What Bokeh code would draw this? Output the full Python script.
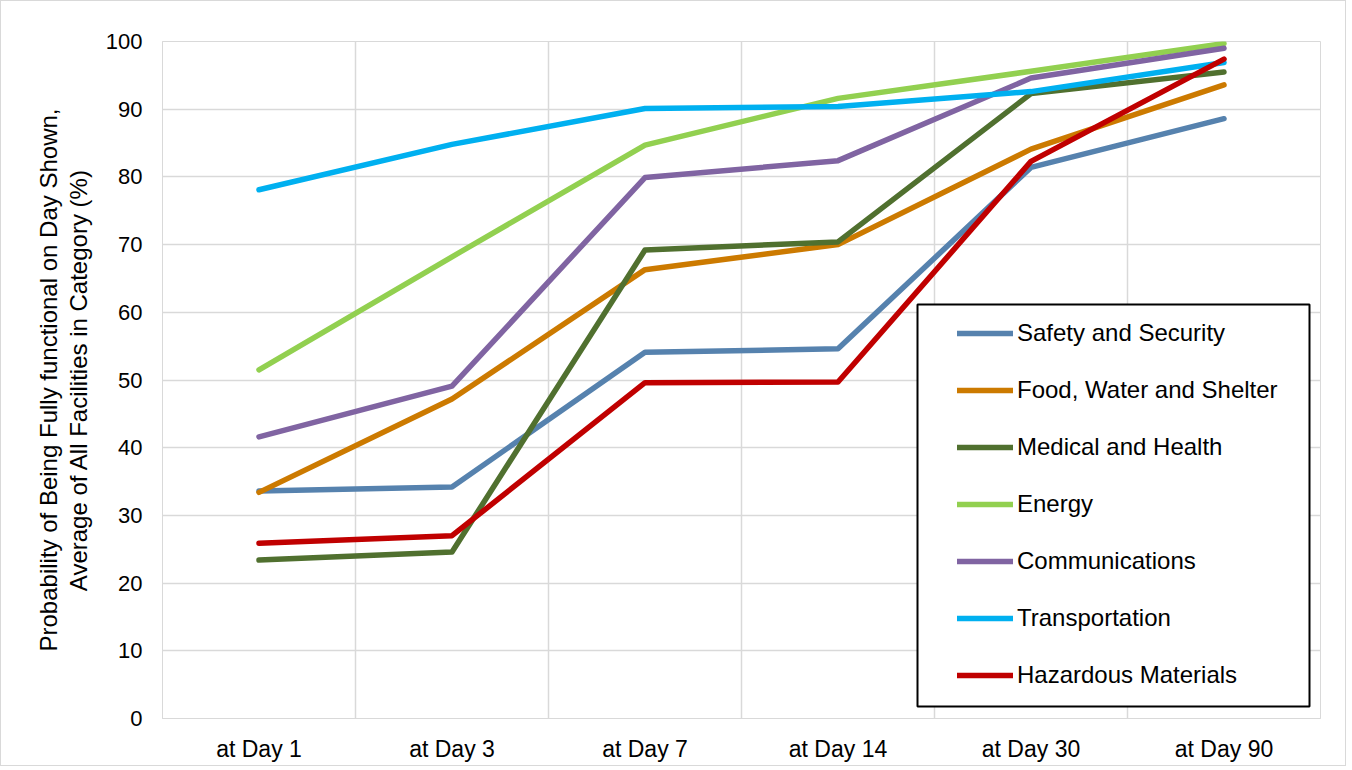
from bokeh.plotting import figure
from bokeh.models import FixedTicker, Legend, LegendItem, BoxAnnotation, Range1d
from bokeh.embed import file_html
from bokeh.resources import INLINE

days = ["at Day 1", "at Day 3", "at Day 7", "at Day 14", "at Day 30", "at Day 90"]

safety = [33.6, 34.2, 54.1, 54.6, 81.4, 88.6]
food = [33.4, 47.2, 66.3, 70.0, 84.1, 93.6]
medical = [23.4, 24.6, 69.2, 70.4, 92.3, 95.5]
energy = [51.5, 68.2, 84.7, 91.6, 95.6, 99.7]
communications = [41.6, 49.1, 79.9, 82.4, 94.6, 99.0]
transportation = [78.1, 84.8, 90.1, 90.4, 92.6, 96.9]
hazardous = [25.9, 27.0, 49.6, 49.7, 82.3, 97.4]

series_names = ["Safety and Security", "Food, Water and Shelter", "Medical and Health",
                "Energy", "Communications", "Transportation", "Hazardous Materials"]
series_values = [safety, food, medical, energy, communications, transportation, hazardous]
series_colors = ["#5682ae", "#cc7a00", "#50702f", "#92d050", "#8064a2", "#00b0f0", "#c00000"]

y_ticks = [0, 10, 20, 30, 40, 50, 60, 70, 80, 90, 100]

FONT = "Liberation Sans"
GRID = "#d9d9d9"

xpos = [i + 0.5 for i in range(len(days))]

p = figure(width=1346, height=766, output_backend="svg", toolbar_location=None,
           x_range=Range1d(0, len(days)), y_range=Range1d(0, 100),
           min_border_left=161, min_border_right=27, min_border_top=40, min_border_bottom=49)
p.styles = {"border": "1px solid #d9d9d9"}
p.outline_line_color = GRID
p.outline_line_width = 1
p.background_fill_color = "white"
p.border_fill_color = "white"

p.xaxis.ticker = FixedTicker(ticks=xpos)
p.xaxis.major_label_overrides = {x: d for x, d in zip(xpos, days)}
p.xgrid.ticker = FixedTicker(ticks=list(range(1, len(days))))
p.yaxis.ticker = FixedTicker(ticks=y_ticks)

for ax in (p.xaxis[0], p.yaxis[0]):
    ax.axis_line_color = GRID
    ax.major_tick_line_color = None
    ax.minor_tick_line_color = None
    ax.major_tick_out = 0
    ax.major_tick_in = 0
    ax.major_label_text_font = FONT
    ax.major_label_text_color = "#000000"

p.yaxis.major_label_text_font_size = "22px"
p.yaxis.major_label_standoff = 20
p.xaxis.major_label_text_font_size = "23px"
p.xaxis.major_label_standoff = 17

p.yaxis.axis_label = "Probability of Being Fully functional on Day Shown,\nAverage of All Facilities in Category (%)"
p.yaxis.axis_label_text_font = FONT
p.yaxis.axis_label_text_font_size = "24px"
p.yaxis.axis_label_text_font_style = "normal"
p.yaxis.axis_label_text_color = "#000000"
p.yaxis.axis_label_text_line_height = 1.1
p.yaxis.axis_label_standoff = 11

p.xgrid.grid_line_color = GRID
p.ygrid.grid_line_color = GRID
p.xgrid.grid_line_width = 1.5
p.ygrid.grid_line_width = 1.5

items = []
for name, vals, col in zip(series_names, series_values, series_colors):
    r = p.line(xpos, vals, line_color=col, line_width=5.5, line_cap="round", line_join="round")
    items.append(LegendItem(label=name, renderers=[r]))

box = BoxAnnotation(left=755, right=1147, top=414, bottom=12,
                    left_units="screen", right_units="screen", top_units="screen", bottom_units="screen",
                    fill_color="white", fill_alpha=1.0, line_color="black", line_alpha=1.0,
                    line_width=2, level="annotation")
p.add_layout(box)

legend = Legend(items=items, location=(783, 16), margin=0, padding=12,
                glyph_width=56, glyph_height=20, label_standoff=4,
                label_height=31, spacing=26,
                label_text_font=FONT, label_text_font_size="24px", label_text_color="#000000",
                border_line_alpha=0, background_fill_alpha=0)
p.add_layout(legend, "center")

open("out.html", "w").write(file_html(p, INLINE))
